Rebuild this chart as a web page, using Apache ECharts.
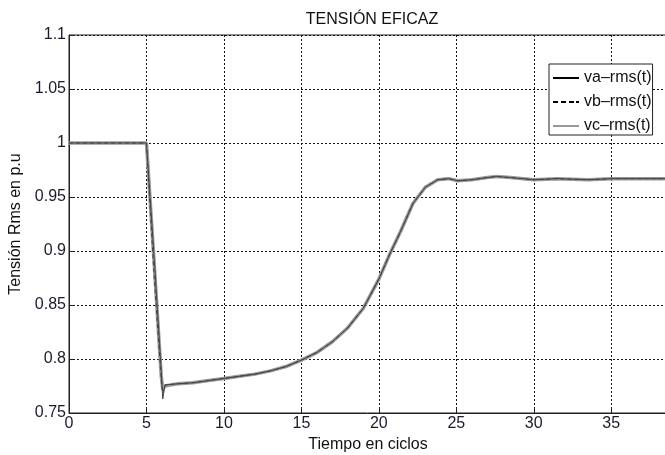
<!DOCTYPE html>
<html>
<head>
<meta charset="utf-8">
<script src="https://cdn.jsdelivr.net/npm/echarts@6/dist/echarts.min.js"></script>
<style>html,body{margin:0;padding:0;background:#fff;overflow:hidden;}#c{width:665px;height:455px;}</style>
</head>
<body>
<div id="c"></div>
<script>
const time = [0, 5, 5.5, 5.95, 6.05, 6.2, 7, 8, 9, 10, 11, 12, 13, 14, 15, 16, 17, 18, 19, 20, 20.7, 21.4, 22.2, 23, 23.8, 24.5, 25.1, 26, 27, 27.6, 28.5, 30, 31.5, 33.5, 35, 36.5, 38.6];
const va = [1.000, 1.000, 0.893, 0.790, 0.763, 0.776, 0.777, 0.778, 0.780, 0.782, 0.784, 0.786, 0.789, 0.793, 0.799, 0.806, 0.816, 0.829, 0.847, 0.874, 0.897, 0.918, 0.944, 0.959, 0.966, 0.967, 0.965, 0.966, 0.968, 0.969, 0.968, 0.966, 0.967, 0.966, 0.967, 0.967, 0.967];
const vb = [1.000, 1.000, 0.875, 0.782, 0.768, 0.776, 0.777, 0.778, 0.780, 0.782, 0.784, 0.786, 0.789, 0.793, 0.799, 0.806, 0.816, 0.829, 0.847, 0.874, 0.897, 0.918, 0.944, 0.959, 0.966, 0.967, 0.965, 0.966, 0.968, 0.969, 0.968, 0.966, 0.967, 0.966, 0.967, 0.967, 0.967];
const vc = [1.000, 1.000, 0.888, 0.785, 0.772, 0.775, 0.777, 0.778, 0.780, 0.782, 0.784, 0.786, 0.789, 0.793, 0.799, 0.806, 0.816, 0.829, 0.847, 0.874, 0.897, 0.918, 0.944, 0.959, 0.966, 0.967, 0.965, 0.966, 0.968, 0.969, 0.968, 0.966, 0.967, 0.966, 0.967, 0.967, 0.967];
const seriesNames = ['va\u2013rms(t)', 'vb\u2013rms(t)', 'vc\u2013rms(t)'];
const xTicks = [0, 5, 10, 15, 20, 25, 30, 35];
const yTicks = [0.75, 0.8, 0.85, 0.9, 0.95, 1, 1.05, 1.1];

const pairs = arr => time.map((t, i) => [t, arr[i]]);
const FONT = 'Liberation Sans, Arial, Helvetica, sans-serif';
const gridLine = { show: true, lineStyle: { color: '#111', width: 1, type: [2, 2] } };

const ICON_SOLID = 'path://M0,0h26v2h-26z';
const ICON_DASH = 'path://M0,0h5v2h-5zM8,0h5v2h-5zM16,0h5v2h-5zM23,0h3v2h-3z';

const chart = echarts.init(document.getElementById('c'), null, { renderer: 'canvas' });
chart.setOption({
  animation: false,
  backgroundColor: '#fff',
  title: {
    text: 'TENSIÓN EFICAZ', left: 367, top: 7, textAlign: 'center',
    textStyle: { fontFamily: FONT, fontSize: 16, fontWeight: 'normal', color: '#111' }
  },
  legend: {
    orient: 'vertical', left: 549, top: 64,
    data: [
      { name: seriesNames[0], icon: ICON_SOLID, itemStyle: { color: '#000' } },
      { name: seriesNames[1], icon: ICON_DASH, itemStyle: { color: '#000' } },
      { name: seriesNames[2], icon: ICON_SOLID, itemStyle: { color: '#999' } }
    ],
    backgroundColor: '#fff', borderColor: '#222', borderWidth: 1,
    padding: [6, 1, 1, 4], itemWidth: 26, itemHeight: 2, itemGap: 8,
    textStyle: { fontFamily: FONT, fontSize: 16, color: '#111', lineHeight: 16 }
  },
  grid: { left: 69, top: 35, right: -2, bottom: 42, show: true, borderColor: '#222', borderWidth: 1, containLabel: false, outerBoundsMode: 'none' },
  xAxis: {
    type: 'value', min: 0, max: 38.6, interval: 5,
    name: 'Tiempo en ciclos', nameLocation: 'middle', nameGap: 19,
    nameTextStyle: { fontFamily: FONT, fontSize: 16, color: '#111' },
    axisLine: { show: true, lineStyle: { color: '#222', width: 1 } },
    axisTick: { show: true, inside: true, length: 5, lineStyle: { color: '#222' } },
    axisLabel: { fontFamily: FONT, fontSize: 16, color: '#1a1a2a', margin: 3, showMinLabel: true, showMaxLabel: false,
      formatter: v => xTicks.includes(v) ? String(v) : '' },
    splitLine: gridLine
  },
  yAxis: {
    type: 'value', min: 0.75, max: 1.1, interval: 0.05,
    name: 'Tensión Rms en p.u', nameLocation: 'middle', nameGap: 36,
    nameTextStyle: { fontFamily: FONT, fontSize: 16, color: '#111' },
    axisLine: { show: true, lineStyle: { color: '#222', width: 1 } },
    axisTick: { show: true, inside: true, length: 5, lineStyle: { color: '#222' } },
    axisLabel: { fontFamily: FONT, fontSize: 16, color: '#1a1a2a', margin: 3, showMinLabel: true, showMaxLabel: true,
      formatter: v => { const r = Math.round(v * 100) / 100; return yTicks.some(t => Math.abs(t - r) < 1e-9) ? String(r) : ''; } },
    splitLine: gridLine
  },
  series: [
    { name: seriesNames[2], type: 'line', data: pairs(vc), showSymbol: false, symbol: 'none', z: 2,
      lineStyle: { color: '#999', width: 3.5 }, itemStyle: { color: '#999' } },
    { name: seriesNames[0], type: 'line', data: pairs(va), showSymbol: false, symbol: 'none', z: 3,
      lineStyle: { color: '#444', width: 1 }, itemStyle: { color: '#000' } },
    { name: seriesNames[1], type: 'line', data: pairs(vb), showSymbol: false, symbol: 'none', z: 4,
      lineStyle: { color: '#444', width: 1, type: [4, 3] }, itemStyle: { color: '#000' } }
  ]
});
</script>
</body>
</html>
